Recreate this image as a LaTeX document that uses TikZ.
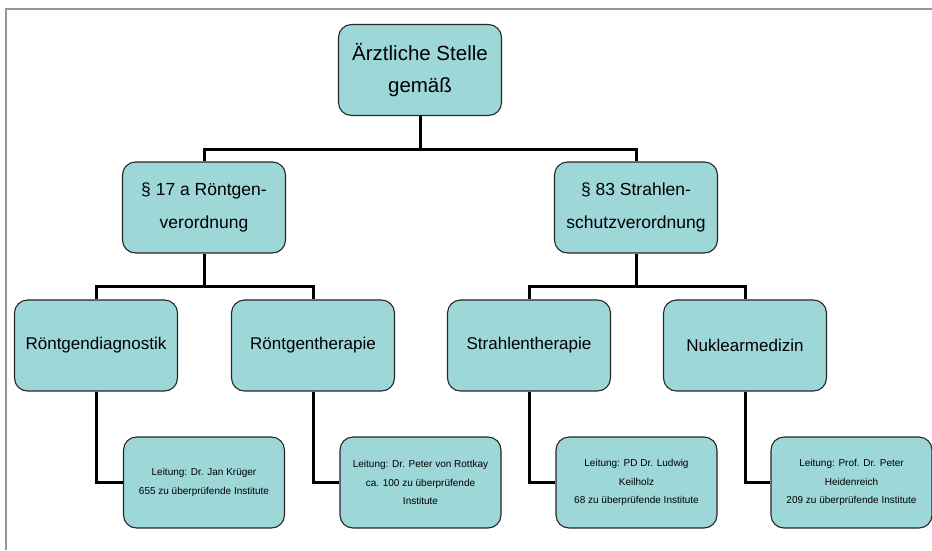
\documentclass[tikz,border=0pt]{standalone}
\usepackage{fontspec}
\setmainfont{Liberation Sans}
\definecolor{boxfill}{RGB}{157,215,216}
\definecolor{framegray}{RGB}{150,150,155}
\begin{document}
\begin{tikzpicture}[x=1pt,y=-1pt,
  box/.style={draw=black!85, line width=1.1pt, fill=boxfill, rounded corners=13pt,
    minimum width=163pt, minimum height=91pt, align=center, inner sep=2pt, text=black},
  lvlone/.style={box, font={\fontsize{20.5pt}{32pt}\selectfont}},
  lvltwo/.style={box, font={\fontsize{17.5pt}{33pt}\selectfont}},
  lvlthree/.style={box, font={\fontsize{17pt}{30pt}\selectfont}},
  lvlfour/.style={box, minimum width=161pt, font={\fontsize{10pt}{18.7pt}\selectfont}},
  conn/.style={line width=3pt, black}]
\useasboundingbox (0,0) rectangle (932,550);
\draw[framegray, line width=2pt] (6,550) -- (6,9) -- (932,9);

\node[lvlone] (root) at (420,70) {Ärztliche Stelle\\gemäß};

\node[lvltwo] (roev) at (204,207.5) {§ 17 a Röntgen-\\verordnung};
\node[lvltwo] (strv) at (636,207.5) {§ 83 Strahlen-\\schutzverordnung};

\node[lvlthree] (rdiag) at (96,345.5) {Röntgendiagnostik};
\node[lvlthree] (rther) at (313,345.5) {Röntgentherapie};
\node[lvlthree] (sther) at (529,345.5) {Strahlentherapie};
\node[lvlthree] (nukl) at (745,345.5) {Nuklearmedizin};

\node[lvlfour] (lrdiag) at (204,482.5) {Leitung: Dr. Jan Krüger\\655 zu überprüfende Institute};
\node[lvlfour] (lrther) at (420.5,482.5) {Leitung: Dr. Peter von Rottkay\\ca. 100 zu überprüfende\\Institute};
\node[lvlfour] (lsther) at (636.5,482.5) {Leitung: PD Dr. Ludwig\\Keilholz\\68 zu überprüfende Institute};
\node[lvlfour] (lnukl) at (851.5,482.5) {Leitung: Prof. Dr. Peter\\Heidenreich\\209 zu überprüfende Institute};

\draw[conn] (root.south) -- ++(0,33) coordinate (hubroot);
\draw[conn] (hubroot) -| (roev.north);
\draw[conn] (hubroot) -| (strv.north);

\draw[conn] (roev.south) -- ++(0,33) coordinate (hubroev);
\draw[conn] (hubroev) -| (rdiag.north);
\draw[conn] (hubroev) -| (rther.north);

\draw[conn] (strv.south) -- ++(0,33) coordinate (hubstrv);
\draw[conn] (hubstrv) -| (sther.north);
\draw[conn] (hubstrv) -| (nukl.north);

\draw[conn] (rdiag.south) |- (lrdiag.west);
\draw[conn] (rther.south) |- (lrther.west);
\draw[conn] (sther.south) |- (lsther.west);
\draw[conn] (nukl.south) |- (lnukl.west);
\end{tikzpicture}
\end{document}
